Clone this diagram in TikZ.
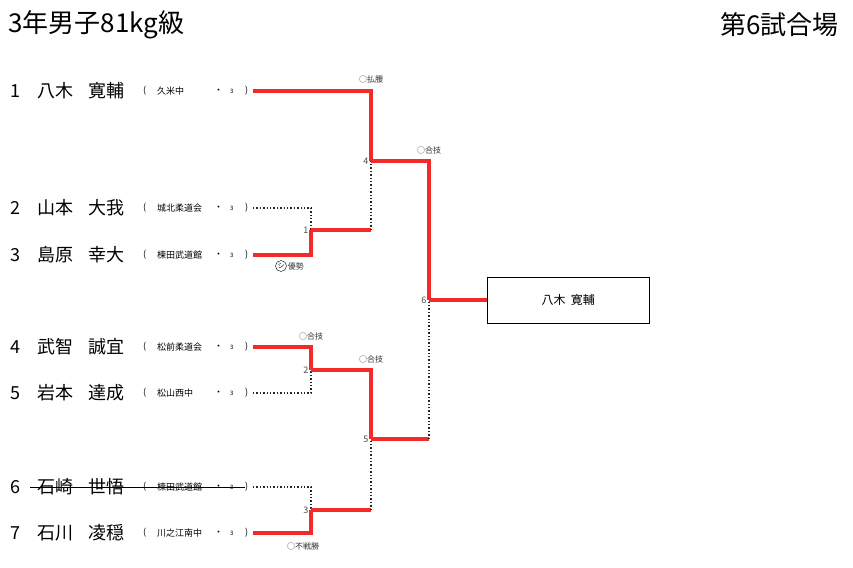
\documentclass[tikz,border=0pt]{standalone}
\usepackage{fontspec}
\setmainfont{Noto Sans CJK JP}
\definecolor{wr}{HTML}{F22A2A}
\begin{document}
\begin{tikzpicture}[x=1pt,y=-1pt,
 win/.style={draw=wr,line width=3.2pt},
 lose/.style={draw=black!85,line width=1.4pt,dotted},
 num/.style={font=\fontsize{9}{9}\selectfont,text=black!70,anchor=east,inner sep=1pt,xshift=-1.5pt},
 how/.style={font=\fontsize{8}{8}\selectfont,text=black!80,inner sep=1pt},
 nm/.style={font=\fontsize{18}{18}\selectfont,anchor=west,inner sep=0},
 sc/.style={font=\fontsize{9}{9}\selectfont,anchor=west,inner sep=0}]
\useasboundingbox (0,0) rectangle (853,567);
\node[anchor=west,font=\fontsize{26}{26}\selectfont] (title) at (5,25) {3年男子81kg級};
\node[anchor=east,font=\fontsize{26}{26}\selectfont] (place) at (842,25) {第6試合場};
\foreach \i/\y/\f/\g/\s in {1/91/八木/寛輔/久米中,2/208/山本/大我/城北柔道会,3/255/島原/幸大/楝田武道館,4/347/武智/誠宜/松前柔道会,5/393/岩本/達成/松山西中,6/487/石崎/世悟/楝田武道館,7/533/石川/凌穏/川之江南中}{
 \node[nm] (k\i) at (10,\y) {\i};
 \node[nm] (f\i) at (37,\y) {\f};
 \node[nm] (g\i) at (88,\y) {\g};
 \node[sc] (s\i) at (143,\y) {(};
 \node[sc] (t\i) at (157,\y) {\s};
 \node[sc] (d\i) at (214,\y) {・};
 \node[sc,font=\fontsize{6}{6}\selectfont] (y\i) at (230,\y) {3};
 \node[sc] (p\i) at (245,\y) {)};
 \coordinate (e\i) at (253,\y);
}
\draw[black,line width=0.8pt] (30,487) -- (245,487);
\coordinate (m1) at (311,230); \coordinate (m2) at (311,370); \coordinate (m3) at (311,510);
\coordinate (m4) at (371,161); \coordinate (m5) at (371,439); \coordinate (m6) at (429,300);
\draw[lose] (e2) -| (m1);
\draw[win] (e3) -| (m1);
\draw[win] (m1) -- (m1 -| m4);
\draw[lose] (m1 -| m4) -- (m4);
\draw[win] (e1) -| (m4);
\draw[win] (m4) -- (m4 -| m6) -- (m6);
\draw[win] (e4) -| (m2);
\draw[lose] (e5) -| (m2);
\draw[win] (m2) -- (m2 -| m5) -- (m5);
\draw[lose] (e6) -| (m3);
\draw[win] (e7) -| (m3);
\draw[win] (m3) -- (m3 -| m5);
\draw[lose] (m3 -| m5) -- (m5);
\draw[win] (m5) -- (m5 -| m6);
\draw[lose] (m5 -| m6) -- (m6);
\node[draw,minimum width=162pt,minimum height=46pt,anchor=west,font=\fontsize{12}{12}\selectfont] (champ) at (487,300) {八木\ \ 寛輔};
\draw[win] (m6) -- (champ.west);
\node[num] at (m1) {1}; \node[num] at (m2) {2}; \node[num] at (m3) {3};
\node[num] at (m4) {4}; \node[num] at (m5) {5}; \node[num] at (m6) {6};
\node[how] at (371,79) {○払腰};
\node[how] at (429,150) {○合技};
\node[draw,circle,inner sep=0.5pt,minimum size=11pt,font=\fontsize{7}{7}\selectfont] (sh) at (281,266) {シ};
\node[how,anchor=west] at (sh.east) {優勢};
\node[how] at (311,336) {○合技};
\node[how] at (371,359) {○合技};
\node[how] at (303,546) {○不戦勝};
\end{tikzpicture}
\end{document}
